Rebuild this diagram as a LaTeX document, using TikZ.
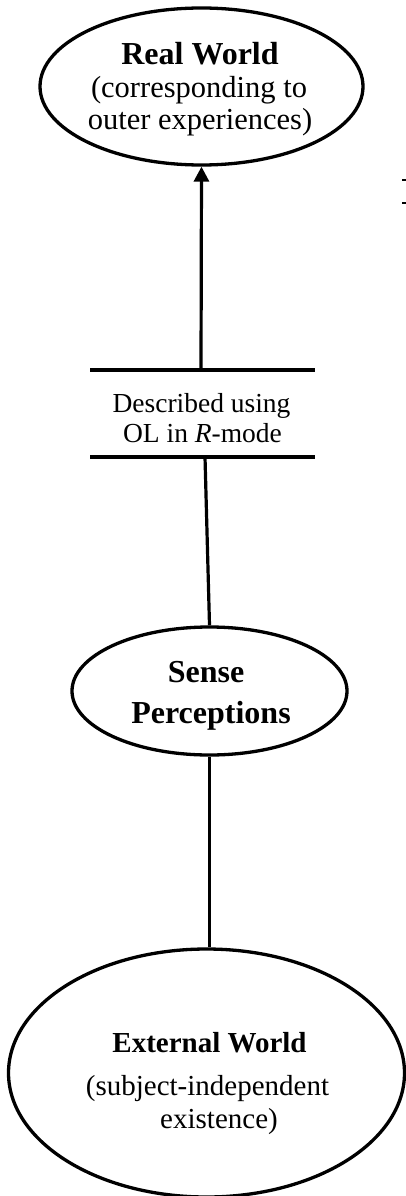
\documentclass[tikz,border=0pt]{standalone}
\usepackage{fontspec}
\setmainfont{Liberation Serif}
\usetikzlibrary{shapes.geometric,arrows.meta}
\begin{document}
\begin{tikzpicture}[x=1pt,y=-1pt,
  ell/.style={ellipse,draw,line width=3.3pt,inner sep=0pt},
  conn/.style={line width=3.2pt},
  bar/.style={line width=4.2pt},
  txt/.style={anchor=base,inner sep=0pt},
  big/.style={font=\fontsize{32}{33}\selectfont\bfseries},
  norm/.style={font=\fontsize{30.5}{32}\selectfont},
  mid/.style={font=\fontsize{27.5}{30}\selectfont},
  ext/.style={font=\fontsize{29}{31}\selectfont},
  extb/.style={font=\fontsize{29}{31}\selectfont\bfseries}]
\useasboundingbox (0,0) rectangle (406,1196);
% Real World
\node[ell,minimum width=323pt,minimum height=157pt] (rw) at (201.5,86.5) {};
\node[txt,big] (rw1) at (200,65) {Real World};
\node[txt,norm] (rw2) at (199,98) {(corresponding to};
\node[txt,norm] (rw3) at (200,130) {outer experiences)};
% box
\coordinate (btl) at (90,370);
\coordinate (btr) at (315,370);
\coordinate (bbl) at (90,457);
\coordinate (bbr) at (315,457);
\coordinate (btm) at (201,370);
\coordinate (bbm) at (205,457);
\draw[bar] (btl) -- (btr);
\draw[bar] (bbl) -- (bbr);
\node[txt,mid] (d1) at (201.5,412) {Described using};
\node[txt,mid] (d2) at (202.5,442) {OL in \textit{R}-mode};
% Sense Perceptions
\node[ell,minimum width=275pt,minimum height=128pt] (sp) at (209.5,691) {};
\node[txt,big] (sp1) at (206,682) {Sense};
\node[txt,big] (sp2) at (211,723) {Perceptions};
% External World
\node[ell,minimum width=396pt,minimum height=248pt] (ew) at (206.5,1073) {};
\node[txt,extb] (ew1) at (209.5,1052) {External World};
\node[txt,ext] (ew2) at (207.5,1095) {(subject-independent};
\node[txt,ext] (ew3) at (219,1128) {existence)};
% connectors
\draw[conn,-{Triangle[width=15pt,length=15pt]}] (btm) -- (rw.south);
\draw[conn] (bbm) -- (sp.north);
\draw[conn] (sp.south) -- (sp.south |- ew.north);
% stray marks at right edge
\coordinate (m1) at (402,180);
\coordinate (m2) at (402,203);
\draw[line width=1.5pt] (m1) -- ++(5,0);
\draw[line width=1.5pt] (m2) -- ++(5,0);
\end{tikzpicture}
\end{document}
